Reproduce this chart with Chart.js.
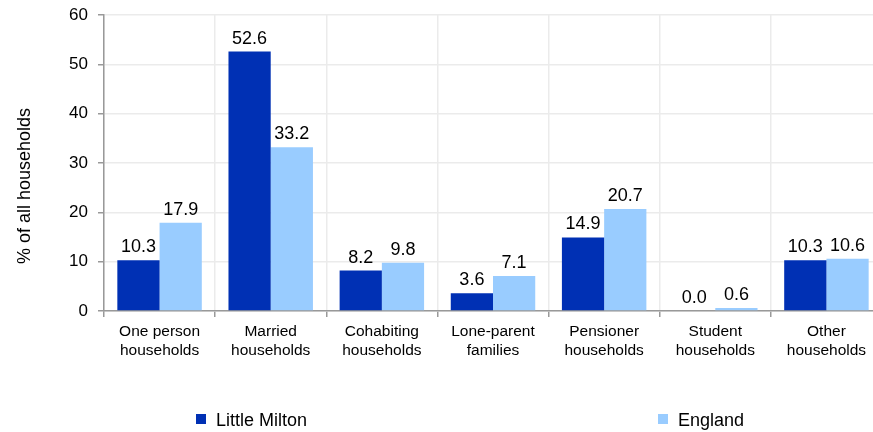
<!DOCTYPE html>
<html>
<head>
<meta charset="utf-8">
<script src="https://cdn.jsdelivr.net/npm/chart.js@4/dist/chart.umd.min.js"></script>
<style>
  html, body { margin: 0; padding: 0; background: #fff; overflow: hidden; }
  #wrap { position: relative; width: 873px; height: 432px; overflow: hidden; }
  #box { position: absolute; left: 0; top: 0; width: 882px; height: 432px; }
  .leg { position: absolute; top: 406px; font: 18px "Liberation Sans", Arial, sans-serif; color: #000; white-space: nowrap; }
  .leg span { position: absolute; left: 0; top: 8px; width: 10px; height: 10px; }
  .leg b { position: absolute; left: 20px; top: 4px; font-weight: normal; }
</style>
</head>
<body>
<div id="wrap">
  <div id="box"><canvas id="chart"></canvas></div>
  <div class="leg" style="left:196px"><span style="background:#0030b4"></span><b>Little Milton</b></div>
  <div class="leg" style="left:658px"><span style="background:#99ccff"></span><b>England</b></div>
</div>
<script>
const categories = [
  ['One person', 'households'],
  ['Married', 'households'],
  ['Cohabiting', 'households'],
  ['Lone-parent', 'families'],
  ['Pensioner', 'households'],
  ['Student', 'households'],
  ['Other', 'households']
];
const littleMilton = [10.3, 52.6, 8.2, 3.6, 14.9, 0.0, 10.3];
const england = [17.9, 33.2, 9.8, 7.1, 20.7, 0.6, 10.6];
const yTicks = [0, 10, 20, 30, 40, 50, 60];
const yTitle = '% of all households';

const font = "'Liberation Sans', Arial, sans-serif";

// values above each bar + y axis title
const valueLabels = {
  id: 'valueLabels',
  afterDatasetsDraw(chart) {
    const ctx = chart.ctx;
    ctx.save();
    ctx.font = '18px ' + font;
    ctx.fillStyle = '#000';
    ctx.textAlign = 'center';
    ctx.textBaseline = 'alphabetic';
    chart.data.datasets.forEach((ds, i) => {
      chart.getDatasetMeta(i).data.forEach((bar, j) => {
        ctx.fillText(ds.data[j].toFixed(1), bar.x, bar.y - 8);
      });
    });
    ctx.translate(30, 186);
    ctx.rotate(-Math.PI / 2);
    ctx.font = '18px ' + font;
    ctx.fillText(yTitle, 0, 0);
    ctx.restore();
  }
};

const ctx = document.getElementById('chart').getContext('2d');
const chart = new Chart(ctx, {
  type: 'bar',
  data: {
    labels: categories,
    datasets: [
      { label: 'Little Milton', data: littleMilton, backgroundColor: '#0030b4' },
      { label: 'England', data: england, backgroundColor: '#99ccff' }
    ]
  },
  options: {
    responsive: true,
    maintainAspectRatio: false,
    animation: false,
    layout: { padding: { top: 15, bottom: 61, right: 0, left: 0 } },
    plugins: {
      legend: { display: false },
      tooltip: { enabled: false }
    },
    datasets: { bar: { categoryPercentage: 0.76, barPercentage: 1.0 } },
    scales: {
      x: {
        grid: { offset: true, color: '#ebebeb', lineWidth: 1.5, tickColor: '#999', tickLength: 6 },
        border: { color: '#999', width: 1.5 },
        ticks: { color: '#000', font: { family: font, size: 15.5, lineHeight: 1.22 }, maxRotation: 0, padding: 5 },
        afterFit(scale) { scale.height = 60; scale.paddingLeft = 0; scale.paddingRight = 0; }
      },
      y: {
        min: 0,
        max: 60,
        afterBuildTicks(scale) { scale.ticks = yTicks.map(v => ({ value: v })); },
        grid: { color: '#ebebeb', lineWidth: 1.5, tickColor: '#999', tickLength: 6 },
        border: { color: '#999', width: 1.5 },
        ticks: { color: '#000', font: { family: font, size: 17 }, padding: 10 },
        afterFit(scale) { scale.width = 104; scale.paddingTop = 0; scale.paddingBottom = 0; }
      }
    }
  },
  plugins: [valueLabels]
});
</script>
</body>
</html>
